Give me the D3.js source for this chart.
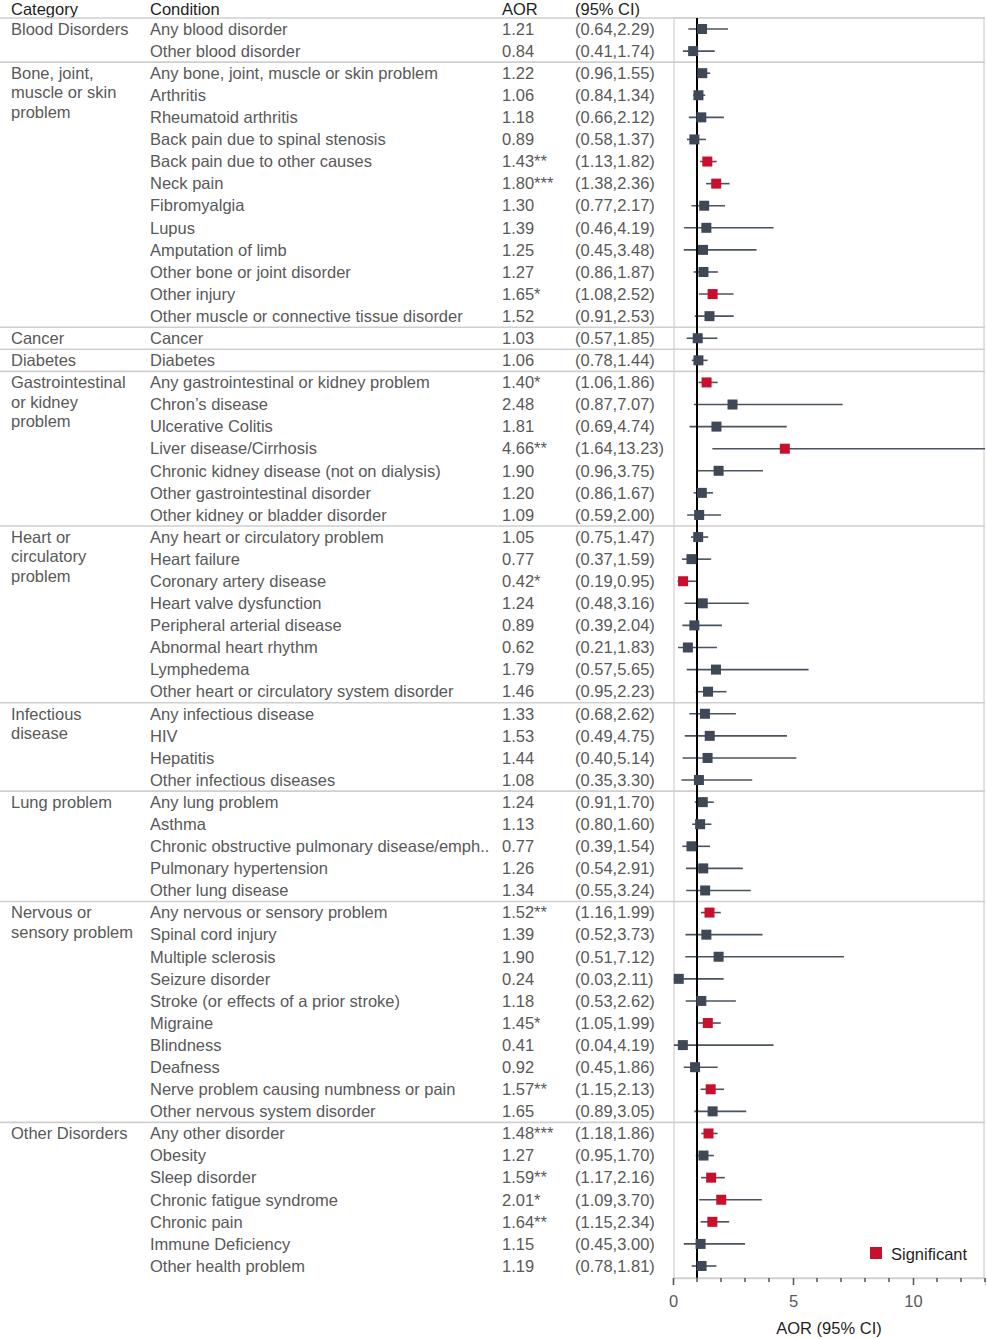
<!DOCTYPE html>
<html><head><meta charset="utf-8">
<script src="https://cdn.jsdelivr.net/npm/d3@7"></script>
<style>body{margin:0;background:#fff}svg{display:block}</style>
</head><body>
<script>
const groupNames = ["Blood Disorders","Bone, joint, muscle or skin problem","Cancer","Diabetes","Gastrointestinal or kidney problem","Heart or circulatory problem","Infectious disease","Lung problem","Nervous or sensory problem","Other Disorders"];
const groupLabelLines = [["Blood Disorders"],["Bone, joint,","muscle or skin","problem"],["Cancer"],["Diabetes"],["Gastrointestinal","or kidney","problem"],["Heart or","circulatory","problem"],["Infectious","disease"],["Lung problem"],["Nervous or","sensory problem"],["Other Disorders"]];
const groupSizes = [2,12,1,1,7,8,4,5,10,7];
const conditions = ["Any blood disorder","Other blood disorder",
"Any bone, joint, muscle or skin problem","Arthritis","Rheumatoid arthritis","Back pain due to spinal stenosis","Back pain due to other causes","Neck pain","Fibromyalgia","Lupus","Amputation of limb","Other bone or joint disorder","Other injury","Other muscle or connective tissue disorder",
"Cancer","Diabetes",
"Any gastrointestinal or kidney problem","Chron\u2019s disease","Ulcerative Colitis","Liver disease/Cirrhosis","Chronic kidney disease (not on dialysis)","Other gastrointestinal disorder","Other kidney or bladder disorder",
"Any heart or circulatory problem","Heart failure","Coronary artery disease","Heart valve dysfunction","Peripheral arterial disease","Abnormal heart rhythm","Lymphedema","Other heart or circulatory system disorder",
"Any infectious disease","HIV","Hepatitis","Other infectious diseases",
"Any lung problem","Asthma","Chronic obstructive pulmonary disease/emph..","Pulmonary hypertension","Other lung disease",
"Any nervous or sensory problem","Spinal cord injury","Multiple sclerosis","Seizure disorder","Stroke (or effects of a prior stroke)","Migraine","Blindness","Deafness","Nerve problem causing numbness or pain","Other nervous system disorder",
"Any other disorder","Obesity","Sleep disorder","Chronic fatigue syndrome","Chronic pain","Immune Deficiency","Other health problem"];
const aor = [1.21,0.84, 1.22,1.06,1.18,0.89,1.43,1.80,1.30,1.39,1.25,1.27,1.65,1.52, 1.03,1.06, 1.40,2.48,1.81,4.66,1.90,1.20,1.09, 1.05,0.77,0.42,1.24,0.89,0.62,1.79,1.46, 1.33,1.53,1.44,1.08, 1.24,1.13,0.77,1.26,1.34, 1.52,1.39,1.90,0.24,1.18,1.45,0.41,0.92,1.57,1.65, 1.48,1.27,1.59,2.01,1.64,1.15,1.19];
const lower = [0.64,0.41, 0.96,0.84,0.66,0.58,1.13,1.38,0.77,0.46,0.45,0.86,1.08,0.91, 0.57,0.78, 1.06,0.87,0.69,1.64,0.96,0.86,0.59, 0.75,0.37,0.19,0.48,0.39,0.21,0.57,0.95, 0.68,0.49,0.40,0.35, 0.91,0.80,0.39,0.54,0.55, 1.16,0.52,0.51,0.03,0.53,1.05,0.04,0.45,1.15,0.89, 1.18,0.95,1.17,1.09,1.15,0.45,0.78];
const upper = [2.29,1.74, 1.55,1.34,2.12,1.37,1.82,2.36,2.17,4.19,3.48,1.87,2.52,2.53, 1.85,1.44, 1.86,7.07,4.74,13.23,3.75,1.67,2.00, 1.47,1.59,0.95,3.16,2.04,1.83,5.65,2.23, 2.62,4.75,5.14,3.30, 1.70,1.60,1.54,2.91,3.24, 1.99,3.73,7.12,2.11,2.62,1.99,4.19,1.86,2.13,3.05, 1.86,1.70,2.16,3.70,2.34,3.00,1.81];
const stars = ["","", "","","","","**","***","","","","","*","", "","", "*","","","**","","","", "","","*","","","","","", "","","","", "","","","","", "**","","","","","*","","","**","", "***","","**","*","**","",""];
const xTicks = [0,5,10];

const W = 987, H = 1339;
const FONT = "'Liberation Sans', Arial, sans-serif";
const svg = d3.select("body").append("svg").attr("width", W).attr("height", H)
  .style("font-family", FONT);

const n = conditions.length;
const y = d3.scaleLinear().domain([0, n - 1]).range([29, 1266]);
const x = d3.scaleLinear().domain([0, 13]).range([673, 985]);
const topY = 18, botY = 1278;
const fs = 16.5;
const textCol = "#595959";
const sepCol = "#cfcfcf";
const slate = "#3e4856";
const red = "#c8102e";

const starts = [];
let acc = 0;
groupSizes.forEach(s => { starts.push(acc); acc += s; });

// header
const hdr = svg.append("g").attr("fill", "#1f1f1f").attr("font-size", fs);
[["Category",11],["Condition",150],["AOR",502],["(95% CI)",575]].forEach(([t,xx]) =>
  hdr.append("text").attr("x", xx).attr("y", 9).attr("dy", "0.35em").text(t));

// separators
const seps = [topY].concat(starts.slice(1).map(s => (y(s - 1) + y(s)) / 2));
svg.append("g").selectAll("line").data(seps).join("line")
  .attr("x1", 0).attr("x2", 985).attr("y1", d => d).attr("y2", d => d)
  .attr("stroke", sepCol).attr("stroke-width", 1.6);

// panel border
svg.append("rect").attr("x", x(0) + 1).attr("y", topY).attr("width", x(13) - x(0) - 2).attr("height", botY - topY)
  .attr("fill", "none").attr("stroke", sepCol).attr("stroke-width", 1.2);

// group labels
const gl = svg.append("g").attr("fill", textCol).attr("font-size", fs);
groupLabelLines.forEach((lines, gi) => {
  lines.forEach((ln, li) => {
    gl.append("text").attr("x", 11).attr("y", y(starts[gi]) + li * 19.5).attr("dy", "0.35em").text(ln);
  });
});

// rows
const rows = d3.range(n);
const tb = svg.append("g").attr("fill", textCol).attr("font-size", fs);
tb.selectAll(".cond").data(rows).join("text").attr("x", 150).attr("y", i => y(i)).attr("dy", "0.35em").text(i => conditions[i]);
tb.selectAll(".aor").data(rows).join("text").attr("x", 502).attr("y", i => y(i)).attr("dy", "0.35em").text(i => aor[i].toFixed(2) + stars[i]);
tb.selectAll(".ci").data(rows).join("text").attr("x", 575).attr("y", i => y(i)).attr("dy", "0.35em").text(i => "(" + lower[i].toFixed(2) + "," + upper[i].toFixed(2) + ")");

// plot
svg.append("clipPath").attr("id", "pc").append("rect")
  .attr("x", x(0)).attr("y", topY).attr("width", x(13) - x(0)).attr("height", botY - topY);
const pg = svg.append("g").attr("clip-path", "url(#pc)");
pg.selectAll(".cil").data(rows).join("line")
  .attr("x1", i => x(lower[i])).attr("x2", i => x(upper[i]))
  .attr("y1", i => y(i)).attr("y2", i => y(i))
  .attr("stroke", "#4a5360").attr("stroke-width", 1.6);
pg.append("line").attr("x1", x(1)).attr("x2", x(1)).attr("y1", topY).attr("y2", botY)
  .attr("stroke", "#000").attr("stroke-width", 2);
const sq = 10;
pg.selectAll(".sq").data(rows).join("rect")
  .attr("x", i => x(aor[i]) - sq / 2).attr("y", i => y(i) - sq / 2)
  .attr("width", sq).attr("height", sq)
  .attr("fill", i => stars[i] ? red : slate);

// axis
const ax = svg.append("g").attr("transform", `translate(0,${botY})`)
  .call(d3.axisBottom(x).tickValues(xTicks).tickSize(7).tickPadding(10).tickFormat(d3.format("d")));
ax.select(".domain").attr("stroke", sepCol).attr("stroke-width", 1.5);
ax.selectAll(".tick line").attr("stroke", "#555").attr("stroke-width", 1.5);
ax.selectAll(".tick text").attr("fill", textCol).attr("font-size", fs).attr("font-family", FONT);
ax.append("g").selectAll("line").data(d3.range(0, 14).filter(v => v % 5 !== 0)).join("line")
  .attr("x1", d => x(d)).attr("x2", d => x(d)).attr("y1", 0).attr("y2", 4)
  .attr("stroke", "#555").attr("stroke-width", 1.5);
svg.append("text").attr("x", 829).attr("y", 1328).attr("dy", "0.35em").attr("text-anchor", "middle")
  .attr("fill", "#1f1f1f").attr("font-size", fs).text("AOR (95% CI)");

// legend
svg.append("rect").attr("x", 870).attr("y", 1247).attr("width", 12).attr("height", 12).attr("fill", red);
svg.append("text").attr("x", 891).attr("y", 1254).attr("dy", "0.35em").attr("fill", "#1f1f1f").attr("font-size", fs).text("Significant");
</script>
</body></html>
